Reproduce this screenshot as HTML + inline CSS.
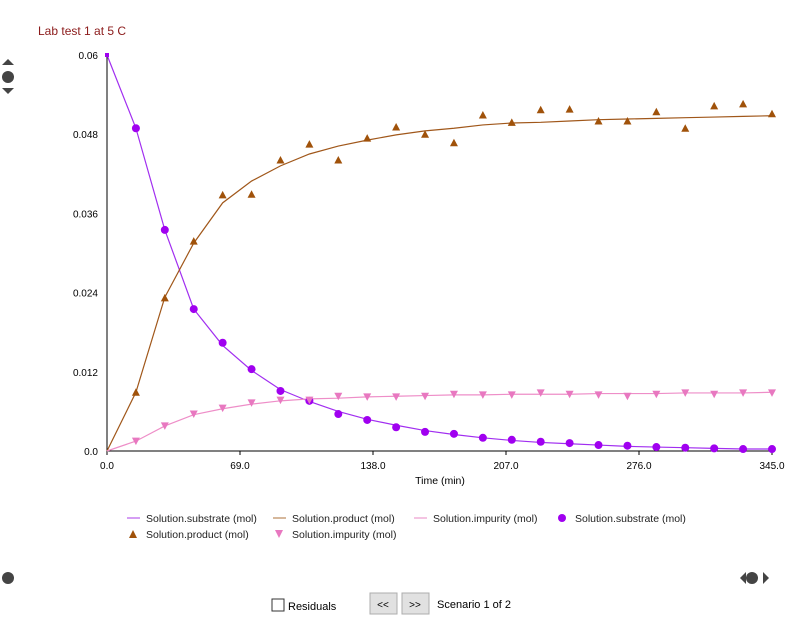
<!DOCTYPE html>
<html><head><meta charset="utf-8"><style>
body{margin:0;width:793px;height:619px;background:#fff;font-family:"Liberation Sans",sans-serif;overflow:hidden;position:relative}
svg{position:absolute;left:0;top:0}
text{font-family:"Liberation Sans",sans-serif}
</style></head><body>
<svg width="793" height="619">
<text x="38" y="35" font-size="12" fill="#8b1a1a">Lab test 1 at 5 C</text>
<g><polygon points="2,65 14,65 8,59" fill="#444"/><circle cx="8" cy="77" r="6" fill="#444"/><polygon points="2,88 14,88 8,94" fill="#444"/></g>
<circle cx="8" cy="578" r="6" fill="#444"/>
<g><polygon points="740,578 746,572 746,584" fill="#444"/><circle cx="752" cy="578" r="6" fill="#444"/><polygon points="769,578 763,572 763,584" fill="#444"/></g>
<g id="axes"></g>
<g id="marks"></g>
<g id="legend" font-size="10.5" fill="#222"></g>
<g><rect x="272" y="599" width="12" height="12" fill="#fff" stroke="#333"/><text x="288" y="610" font-size="11">Residuals</text></g>
<g><rect x="370" y="593" width="27" height="21" fill="#e1e1e1" stroke="#adadad"/><text x="383" y="608" font-size="10" text-anchor="middle">&lt;&lt;</text></g>
<g><rect x="402" y="593" width="27" height="21" fill="#e1e1e1" stroke="#adadad"/><text x="415" y="608" font-size="10" text-anchor="middle">&gt;&gt;</text></g>
<text x="437" y="608" font-size="11">Scenario 1 of 2</text>
</svg>
<script>
const times=[0,15,30,45,60,75,90,105,120,135,150,165,180,195,210,225,240,255,270,285,300,315,330,345];
const subLine=[0.06,0.0489,0.0335,0.0215,0.0160,0.0122,0.0093,0.0075,0.0060,0.0048,0.0039,0.0031,0.0025,0.0020,0.0016,0.0013,0.0011,0.0009,0.0007,0.0006,0.0005,0.0004,0.0003,0.0003];
const prodLine=[0,0.0089,0.0233,0.0315,0.0376,0.0409,0.0432,0.0450,0.0462,0.0471,0.0479,0.0485,0.0489,0.0494,0.0497,0.0498,0.0500,0.0502,0.0503,0.0504,0.0505,0.0506,0.0507,0.0508];
const impLine=[0,0.0015,0.0038,0.0055,0.0064,0.0071,0.0076,0.0079,0.0080,0.0082,0.0083,0.0084,0.0085,0.0085,0.0086,0.0086,0.0086,0.0087,0.0087,0.0087,0.0088,0.0088,0.0088,0.0089];
const subObs=[null,0.0489,0.0335,0.0215,0.0164,0.0124,0.0091,0.0076,0.0056,0.0047,0.0036,0.0029,0.0026,0.0020,0.0017,0.0014,0.0012,0.0009,0.0008,0.0006,0.0005,0.0004,0.0003,0.0003];
const prodObs=[null,0.0089,0.0232,0.0318,0.0388,0.0389,0.0441,0.0465,0.0441,0.0474,0.0491,0.0480,0.0467,0.0509,0.0498,0.0517,0.0518,0.0500,0.0500,0.0514,0.0489,0.0523,0.0526,0.0511];
const impObs=[null,0.0015,0.0038,0.0056,0.0065,0.0073,0.0077,0.0077,0.0083,0.0082,0.0082,0.0083,0.0086,0.0085,0.0085,0.0088,0.0086,0.0085,0.0083,0.0086,0.0088,0.0086,0.0088,0.0088];
const xTicks=[0,69,138,207,276,345];
const yTicks=[0,0.012,0.024,0.036,0.048,0.06];
const X=t=>107+t/345*665, Y=v=>451-v/0.06*396;
const NS='http://www.w3.org/2000/svg';
function mk(tag,attrs,parent){const e=document.createElementNS(NS,tag);for(const k in attrs)e.setAttribute(k,attrs[k]);parent.appendChild(e);return e;}
const ax=document.getElementById('axes'),mg=document.getElementById('marks'),lg=document.getElementById('legend');
let e=mk('line',{x1:107,y1:55,x2:107,y2:451,stroke:'#000'},ax);


e=mk('line',{x1:107,y1:451,x2:772,y2:451,stroke:'#000'},ax);


yTicks.forEach(v=>{const t=mk('text',{x:98,y:Y(v)+4,'font-size':10,'text-anchor':'end',fill:'#000'},ax);t.textContent=v===0?'0.0':String(v);

});
xTicks.forEach(v=>{mk('line',{x1:X(v),y1:451,x2:X(v),y2:455,stroke:'#000'},ax);const t=mk('text',{x:X(v),y:469,'font-size':10,'text-anchor':'middle',fill:'#000'},ax);t.textContent=v.toFixed(1);

});
e=mk('text',{x:440,y:484,'font-size':10.5,'text-anchor':'middle',fill:'#000'},ax);e.textContent='Time (min)';


function line(vals,col,name){const p=mk('polyline',{points:vals.map((v,i)=>X(times[i])+','+Y(v)).join(' '),fill:'none',stroke:col,'stroke-width':1.2},mg);

}
line(subLine,'#a12ef0','substrate-line');line(prodLine,'#a0571a','product-line');line(impLine,'#ee8ec8','impurity-line');
mk('rect',{x:105,y:53,width:4,height:4,fill:'#a000f0'},mg);
subObs.forEach((v,i)=>{if(v==null)return;const c=mk('circle',{cx:X(times[i]),cy:Y(v),r:4,fill:'#a000f0'},mg);

});
prodObs.forEach((v,i)=>{if(v==null)return;const x=X(times[i]),y=Y(v);const c=mk('polygon',{points:`${x-4},${y+3.5} ${x+4},${y+3.5} ${x},${y-4}`,fill:'#a0520a'},mg);

});
impObs.forEach((v,i)=>{if(v==null)return;const x=X(times[i]),y=Y(v);const c=mk('polygon',{points:`${x-4},${y-3.5} ${x+4},${y-3.5} ${x},${y+4}`,fill:'#e878c0'},mg);

});
const items=[[127,518,'line','#c77df0','Solution.substrate (mol)'],[273,518,'line','#c9a07a','Solution.product (mol)'],[414,518,'line','#f0b0d8','Solution.impurity (mol)'],[556,518,'circle','#a000f0','Solution.substrate (mol)'],[127,534,'up','#a0520a','Solution.product (mol)'],[273,534,'down','#e878c0','Solution.impurity (mol)']];
items.forEach(it=>{const [x,y,k,c,l]=it;const g=mk('g',{},lg);


if(k==='line')mk('line',{x1:x,y1:y,x2:x+13,y2:y,stroke:c,'stroke-width':1.5},g);
else if(k==='circle')mk('circle',{cx:x+6,cy:y,r:4,fill:c},g);
else if(k==='up')mk('polygon',{points:`${x+2},${y+4} ${x+10},${y+4} ${x+6},${y-4}`,fill:c},g);
else mk('polygon',{points:`${x+2},${y-4} ${x+10},${y-4} ${x+6},${y+4}`,fill:c},g);
const t=mk('text',{x:x+19,y:y+4,'font-size':10.5,fill:'#222'},g);t.textContent=l;});
</script>
</body></html>
